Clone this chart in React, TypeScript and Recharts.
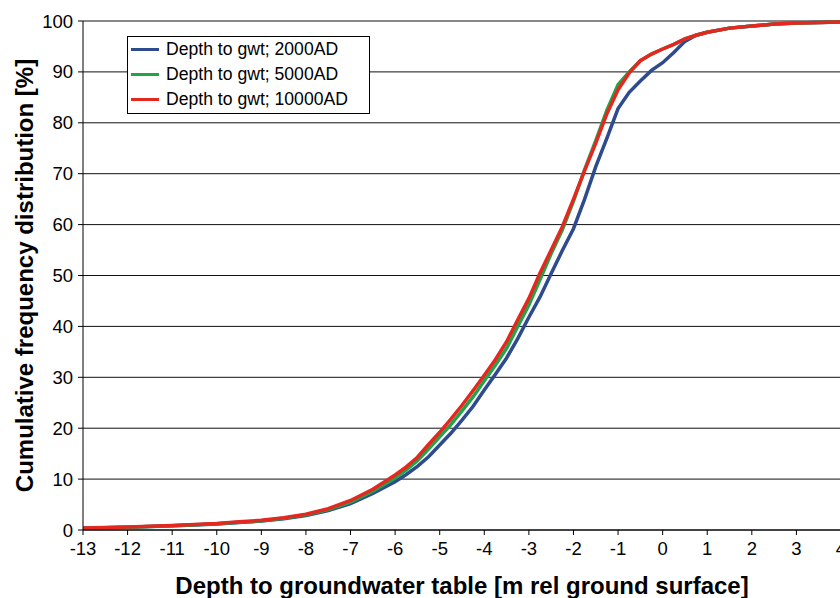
import React from "react";
import {
  CartesianGrid,
  Legend,
  Line,
  LineChart,
  XAxis,
  YAxis,
} from "recharts";

// depth to groundwater table [m rel ground surface]
const depth = [
  -13, -12.5, -12, -11.5, -11, -10.5, -10, -9.5, -9, -8.5, -8, -7.5, -7, -6.5, -6,
  -5.75, -5.5, -5.25, -5, -4.75, -4.5, -4.25, -4, -3.75, -3.5, -3.25, -3, -2.75,
  -2.5, -2.25, -2, -1.75, -1.5, -1.25, -1, -0.75, -0.5, -0.25, 0, 0.25, 0.5, 0.75,
  1, 1.5, 2, 2.5, 3, 3.5, 4,
];

// cumulative frequency [%]
const cum2000 = [
  0.35, 0.45, 0.55, 0.7, 0.85, 1.0, 1.2, 1.45, 1.75, 2.2, 2.85, 3.8, 5.2, 7.2, 9.5,
  10.9, 12.5, 14.4, 16.7, 19.0, 21.6, 24.3, 27.5, 30.6, 33.8, 37.6, 41.8, 45.8,
  50.4, 54.9, 59.2, 65.0, 71.4, 77.0, 82.8, 86.0, 88.2, 90.3, 91.8, 93.8, 96.0, 97.2,
  97.8, 98.6, 99.0, 99.4, 99.6, 99.7, 99.8,
];
const cum5000 = [
  0.35, 0.45, 0.55, 0.7, 0.85, 1.05, 1.25, 1.5, 1.8, 2.3, 3.0, 4.0, 5.5, 7.6, 10.2,
  11.8, 13.6, 15.9, 18.3, 20.7, 23.4, 26.2, 29.3, 32.4, 35.7, 40.0, 44.2, 49.2,
  54.3, 59.0, 64.6, 70.8, 76.5, 82.5, 87.5, 90.0, 92.2, 93.5, 94.5, 95.4, 96.5, 97.2,
  97.8, 98.6, 99.0, 99.4, 99.6, 99.7, 99.8,
];
const cum10000 = [
  0.4, 0.5, 0.6, 0.75, 0.9, 1.1, 1.3, 1.6, 1.9, 2.4, 3.1, 4.2, 5.8, 8.0, 10.8,
  12.4, 14.3, 16.8, 19.2, 21.8, 24.5, 27.4, 30.4, 33.5, 37.0, 41.3, 45.5, 50.5,
  55.0, 59.6, 65.0, 70.6, 76.0, 81.8, 86.5, 89.8, 92.2, 93.5, 94.5, 95.4, 96.5, 97.2,
  97.8, 98.6, 99.0, 99.4, 99.6, 99.7, 99.8,
];

const xTicks = [-13, -12, -11, -10, -9, -8, -7, -6, -5, -4, -3, -2, -1, 0, 1, 2, 3, 4];
const yTicks = [0, 10, 20, 30, 40, 50, 60, 70, 80, 90, 100];

const series = [
  { key: "y2000", name: "Depth to gwt; 2000AD", color: "#2d4b8e", values: cum2000 },
  { key: "y5000", name: "Depth to gwt; 5000AD", color: "#22a349", values: cum5000 },
  { key: "y10000", name: "Depth to gwt; 10000AD", color: "#e5281f", values: cum10000 },
];

const data = depth.map((x, i) => {
  const row: Record<string, number> = { x };
  series.forEach((s) => (row[s.key] = s.values[i]));
  return row;
});

const FONT = "Arial, 'Liberation Sans', sans-serif";

// legend drawn from the series list so the order stays 2000 / 5000 / 10000
function LegendBox() {
  return (
    <div
      style={{
        border: "1px solid #000",
        background: "#fff",
        padding: "0 0 1px 3px",
        fontFamily: FONT,
        fontSize: 17.6,
        color: "#000",
      }}
    >
      {series.map((s) => (
        <div key={s.key} style={{ display: "flex", alignItems: "center", height: 25 }}>
          <span
            style={{
              display: "inline-block",
              width: 28,
              height: 3,
              background: s.color,
              marginRight: 7,
            }}
          />
          {s.name}
        </div>
      ))}
    </div>
  );
}

export default function App() {
  return (
    <div
      style={{
        position: "absolute",
        left: 0,
        top: 0,
        width: 840,
        height: 598,
        overflow: "hidden",
        background: "#fff",
      }}
    >
      <LineChart
        width={860}
        height={598}
        data={data}
        margin={{ top: 21, right: 19, left: 0, bottom: 0 }}
      >
        <CartesianGrid vertical={false} stroke="#111" strokeWidth={1} />
        <XAxis
          dataKey="x"
          type="number"
          domain={[-13, 4]}
          ticks={xTicks}
          interval={0}
          height={68}
          stroke="#000"
          tickSize={5}
          tick={{ fill: "#000", fontSize: 18.5, fontFamily: FONT }}
          tickMargin={7}
          label={{
            value: "Depth to groundwater table [m rel ground surface]",
            position: "insideBottom",
            offset: 4,
            style: { fontFamily: FONT, fontSize: 24, fontWeight: "bold", fill: "#000" },
          }}
        />
        <YAxis
          type="number"
          domain={[0, 100]}
          ticks={yTicks}
          interval={0}
          width={83}
          stroke="#000"
          tickSize={5}
          tick={{ fill: "#000", fontSize: 18.5, fontFamily: FONT }}
          tickMargin={5}
          label={{
            value: "Cumulative frequency distribution [%]",
            angle: -90,
            position: "insideLeft",
            offset: 24,
            style: {
              fontFamily: FONT,
              fontSize: 24,
              fontWeight: "bold",
              fill: "#000",
              textAnchor: "middle",
            },
          }}
        />
        <Legend
          layout="vertical"
          verticalAlign="middle"
          align="center"
          content={<LegendBox />}
          wrapperStyle={{ left: 127, top: 36, width: 243 }}
        />
        {series.map((s) => (
          <Line
            key={s.key}
            dataKey={s.key}
            name={s.name}
            type="linear"
            stroke={s.color}
            strokeWidth={3.5}
            dot={false}
            activeDot={false}
            isAnimationActive={false}
          />
        ))}
      </LineChart>
    </div>
  );
}
